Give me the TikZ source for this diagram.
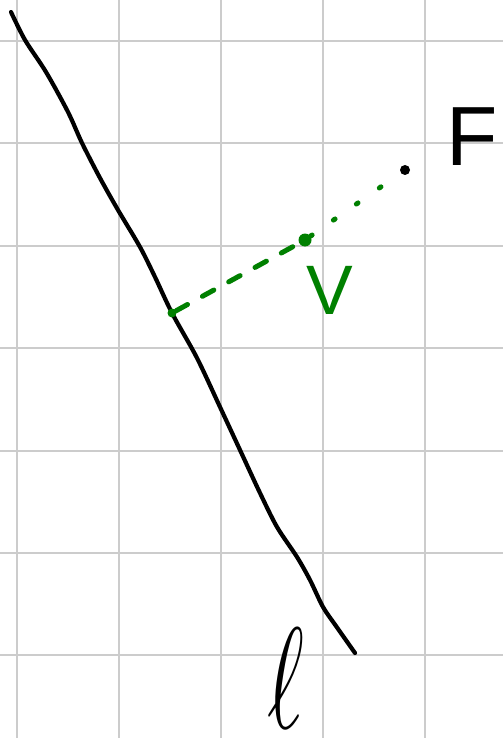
\documentclass[tikz,border=0pt]{standalone}
\usepackage{fontspec}
\setmainfont{Liberation Sans}
\usepackage{tikz}
\usetikzlibrary{positioning}

\definecolor{gridgray}{RGB}{204,204,204}
\definecolor{sketchgreen}{RGB}{0,128,0}

\begin{document}
\begin{tikzpicture}[
    x=1pt, y=-1pt,
    gridline/.style={gridgray, line width=2.5pt},
    pen/.style={black, line width=4.2pt, line cap=round, line join=round},
    greenpen/.style={sketchgreen, line width=5pt, line cap=round},
    dot/.style={circle, fill, inner sep=0pt, minimum size=#1},
    lbl/.style={inner sep=0pt}
]
\useasboundingbox (0,0) rectangle (503,738);

% grid
\foreach \gx in {17,119,221,323,425}
    \draw[gridline] (\gx,0) -- (\gx,738);
\foreach \gy in {41,143,246,348,451,553,655}
    \draw[gridline] (0,\gy) -- (503,\gy);

% the line l
\draw[pen] plot[smooth, tension=0.5] coordinates {
    (11,12) (25,40) (46,72) (68,112) (82,143) (100,178)
    (118,210) (140,247) (155,277) (172,313) (197,358)
    (220,407) (240,450) (260,493) (277,527) (297,557)
    (310,580) (323,607) (336,626) (355,653)};

% points
\node[dot=9pt, sketchgreen] (foot) at (172,313) {};
\node[dot=13pt, sketchgreen] (vertex) at (305,240) {};
\node[dot=10pt, black] (focus) at (405,170) {};

% perpendicular from F to l
\draw[greenpen, dash pattern=on 13pt off 17pt] (foot) -- (vertex);
\draw[greenpen, dash pattern=on 2pt off 26pt] (vertex) -- (focus);

% labels
\node[lbl, font=\fontsize{84}{84}\selectfont] (flabel) at (472,137) {F};
\node[lbl, sketchgreen, font=\fontsize{70}{70}\selectfont] (vlabel) at (330,290) {V};
\node[lbl, font=\Huge, xscale=3.6, yscale=5.8] (llabel) at (286,678) {$\ell$};
\end{tikzpicture}
\end{document}
